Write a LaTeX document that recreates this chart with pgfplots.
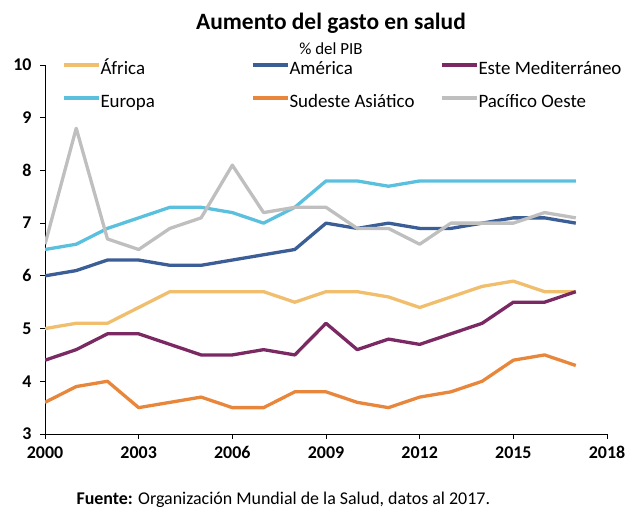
\documentclass[border=0pt]{standalone}
\usepackage{pgfplots}
\pgfplotsset{compat=1.18}
\usepackage{fontspec}
\setmainfont{Carlito}
\definecolor{cafr}{HTML}{F0BE6C}
\definecolor{camer}{HTML}{3A5E95}
\definecolor{cmed}{HTML}{7B2962}
\definecolor{ceur}{HTML}{5BC0DE}
\definecolor{csea}{HTML}{E8873C}
\definecolor{cpac}{HTML}{BFBFBF}
\begin{document}
\begin{tikzpicture}[x=1bp,y=1bp]
\useasboundingbox (0,0) rectangle (626,510);
\begin{axis}[
  at={(45bp,76bp)}, anchor=south west,
  scale only axis, width=562bp, height=369bp,
  xmin=2000, xmax=2018, ymin=3, ymax=10,
  axis lines*=left,
  axis line style={black, line width=0.8bp},
  xtick={2000,2003,...,2018}, ytick={3,4,...,10},
  xticklabel style={/pgf/number format/1000 sep={}},
  /pgf/number format/assume math mode=true,
  ticklabel style={font=\fontsize{18}{21}\selectfont\bfseries},
  tick style={black, line width=0.8bp},
  tick align=outside, major tick length=5bp,
  xticklabel shift=4bp, yticklabel shift=5bp,
  every axis plot/.append style={line width=3.3bp, line join=round},
  legend columns=3,
  legend image code/.code={\draw[#1, line width=4bp] (0bp,5.5bp) -- (35bp,5.5bp);},
  legend style={at={(rel axis cs:0.029,1.012)}, anchor=north west,
    draw=none, fill=none, inner sep=0pt, row sep=14bp,
    font=\fontsize{19}{22}\selectfont,
    nodes={inner sep=0pt, text height=14bp, text depth=5bp},
    /tikz/every even column/.append style={column sep=1bp}},
]
\addplot[cafr] coordinates {(2000,5.0)(2001,5.1)(2002,5.1)(2003,5.4)(2004,5.7)(2005,5.7)(2006,5.7)(2007,5.7)(2008,5.5)(2009,5.7)(2010,5.7)(2011,5.6)(2012,5.4)(2013,5.6)(2014,5.8)(2015,5.9)(2016,5.7)(2017,5.7)};
\addlegendentry{\makebox[149bp][l]{África}}
\addplot[camer] coordinates {(2000,6.0)(2001,6.1)(2002,6.3)(2003,6.3)(2004,6.2)(2005,6.2)(2006,6.3)(2007,6.4)(2008,6.5)(2009,7.0)(2010,6.9)(2011,7.0)(2012,6.9)(2013,6.9)(2014,7.0)(2015,7.1)(2016,7.1)(2017,7.0)};
\addlegendentry{\makebox[149bp][l]{América}}
\addplot[cmed] coordinates {(2000,4.4)(2001,4.6)(2002,4.9)(2003,4.9)(2004,4.7)(2005,4.5)(2006,4.5)(2007,4.6)(2008,4.5)(2009,5.1)(2010,4.6)(2011,4.8)(2012,4.7)(2013,4.9)(2014,5.1)(2015,5.5)(2016,5.5)(2017,5.7)};
\addlegendentry{\makebox[130bp][l]{Este Mediterráneo}}
\addplot[ceur] coordinates {(2000,6.5)(2001,6.6)(2002,6.9)(2003,7.1)(2004,7.3)(2005,7.3)(2006,7.2)(2007,7.0)(2008,7.3)(2009,7.8)(2010,7.8)(2011,7.7)(2012,7.8)(2013,7.8)(2014,7.8)(2015,7.8)(2016,7.8)(2017,7.8)};
\addlegendentry{\makebox[149bp][l]{Europa}}
\addplot[csea] coordinates {(2000,3.6)(2001,3.9)(2002,4.0)(2003,3.5)(2004,3.6)(2005,3.7)(2006,3.5)(2007,3.5)(2008,3.8)(2009,3.8)(2010,3.6)(2011,3.5)(2012,3.7)(2013,3.8)(2014,4.0)(2015,4.4)(2016,4.5)(2017,4.3)};
\addlegendentry{\makebox[149bp][l]{Sudeste Asiático}}
\addplot[cpac] coordinates {(2000,6.6)(2001,8.8)(2002,6.7)(2003,6.5)(2004,6.9)(2005,7.1)(2006,8.1)(2007,7.2)(2008,7.3)(2009,7.3)(2010,6.9)(2011,6.9)(2012,6.6)(2013,7.0)(2014,7.0)(2015,7.0)(2016,7.2)(2017,7.1)};
\addlegendentry{\makebox[130bp][l]{Pacífico Oeste}}
\end{axis}
\node[font=\fontsize{23.5}{27}\selectfont\bfseries] at (331,487) {Aumento del gasto en salud};
\node[font=\fontsize{17}{20}\selectfont] at (331,461) {\% del PIB};
\node[font=\fontsize{18}{21}\selectfont, anchor=west] at (73,10) {\textbf{Fuente:} Organización Mundial de la Salud, datos al 2017.};
\end{tikzpicture}
\end{document}
